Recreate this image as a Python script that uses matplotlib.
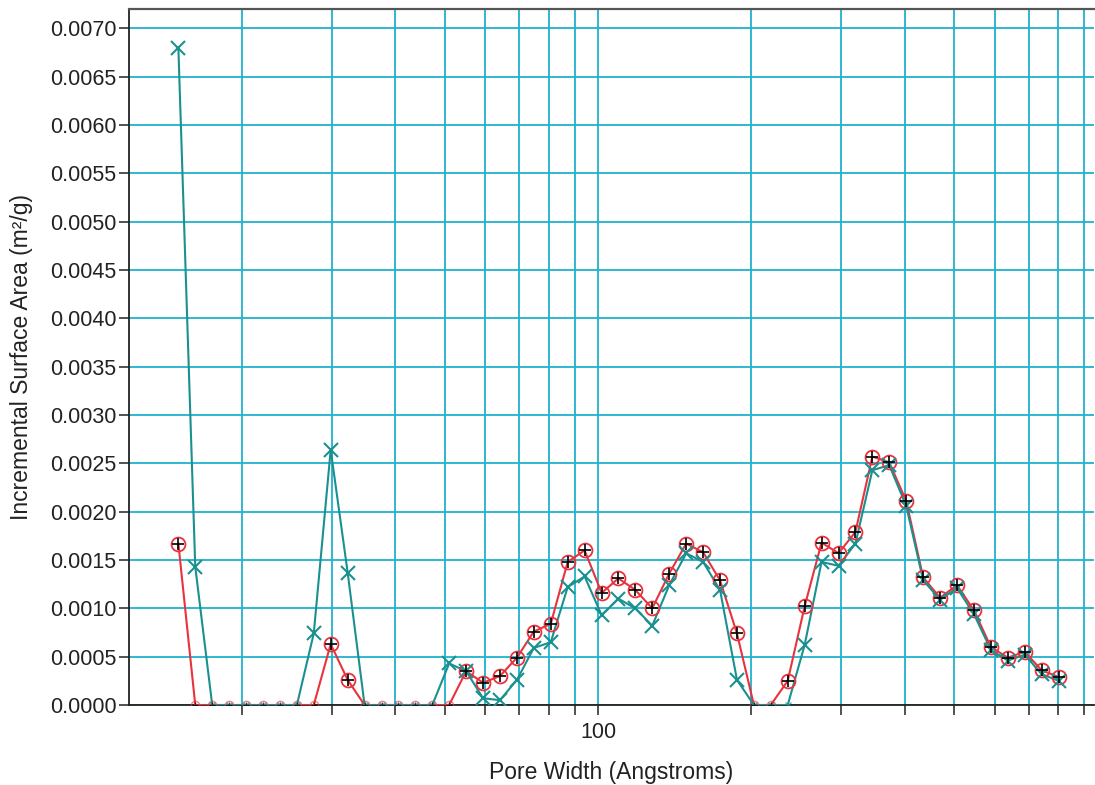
import numpy as np
import matplotlib
matplotlib.use("Agg")
import matplotlib.pyplot as plt
from matplotlib.ticker import MultipleLocator, FormatStrFormatter, LogLocator, FuncFormatter, NullFormatter

# ========= 数据 =========
pore_width = [15.0, 16.19, 17.48, 18.87, 20.37, 21.99, 23.74, 25.63, 27.66, 29.86,
              32.24, 34.80, 37.57, 40.55, 43.78, 47.26, 51.01, 55.07, 59.45, 64.17,
              69.28, 74.78, 80.73, 87.15, 94.07, 101.6, 109.6, 118.3, 127.7, 137.9,
              148.9, 160.7, 173.5, 187.3, 202.2, 218.2, 235.6, 254.3, 274.5, 296.4,
              319.9, 345.4, 372.8, 402.5, 434.5, 469.0, 506.3, 546.6, 590.0, 636.9,
              687.6, 742.2, 801.2]

area_red = [0.00167, 0, 0, 0, 0, 0, 0, 0, 0, 0.00063,
            0.00026, 0, 0, 0, 0, 0, 0, 0.00035, 0.00023, 0.00030,
            0.00049, 0.00076, 0.00084, 0.00148, 0.00160, 0.00116, 0.00131, 0.00119, 0.00100, 0.00136,
            0.00167, 0.00158, 0.00129, 0.00074, 0, 0, 0.00025, 0.00102, 0.00168, 0.00157,
            0.00179, 0.00257, 0.00251, 0.00211, 0.00132, 0.00111, 0.00124, 0.00098, 0.00060, 0.00049,
            0.00055, 0.00036, 0.00029]

area_teal = [0.00680, 0.00143, 0, 0, 0, 0, 0, 0, 0.00074, 0.00264,
             0.00137, 0, 0, 0, 0, 0, 0.00043, 0.00035, 0.00007, 0.00005,
             0.00026, 0.00059, 0.00065, 0.00122, 0.00133, 0.00093, 0.00110, 0.00100, 0.00082, 0.00124,
             0.00157, 0.00148, 0.00119, 0.00026, 0, 0, 0, 0.00062, 0.00148, 0.00144,
             0.00167, 0.00243, 0.00248, 0.00206, 0.00129, 0.00109, 0.00121, 0.00094, 0.00057, 0.00046,
             0.00052, 0.00032, 0.00025]

# ========= 样式 =========
plt.rcParams.update({
    "font.family": ["Liberation Sans", "DejaVu Sans"],
    "font.size": 15,
    "text.color": "#222222",
    "axes.labelcolor": "#222222",
    "xtick.color": "#222222",
    "ytick.color": "#222222",
})

RED = "#e8333d"
TEAL = "#1b9090"
GRID = "#1fb3cb"

x = np.array(pore_width)
yr = np.array(area_red)
yt = np.array(area_teal)

fig = plt.figure(figsize=(10.95, 7.85), dpi=100)
ax = fig.add_axes([0.1178, 0.1019, 0.8812, 0.8866])

# ======== 曲线 ========
ax.plot(x, yr, color=RED, lw=1.5, zorder=3)
ax.plot(x, yt, color=TEAL, lw=1.5, zorder=4)

nz_r = yr > 0
nz_t = yt > 0

# 非零点：大标记
ax.plot(x[nz_r], yr[nz_r], ls="none", marker="o", ms=10, mfc="none", mec=RED, mew=1.3, zorder=5)
ax.plot(x[nz_t], yt[nz_t], ls="none", marker="x", ms=10, mec=TEAL, mew=1.5, zorder=6)
ax.plot(x[nz_r], yr[nz_r], ls="none", marker="+", ms=8, mec="black", mew=1.2, zorder=7)

# 零点：小标记
ax.plot(x[~nz_r], yr[~nz_r], ls="none", marker="o", ms=6, mfc="none", mec=RED, mew=1.0, alpha=0.6, zorder=5)
ax.plot(x[~nz_t], yt[~nz_t], ls="none", marker="x", ms=5, mec=TEAL, mew=1.0, alpha=0.7, zorder=6)
ax.plot(x[~nz_r], yr[~nz_r], ls="none", marker="+", ms=5, mec="black", mew=0.9, alpha=0.7, zorder=7)

# ======== 坐标轴 ========
ax.set_xscale("log")
ax.set_xlim(12.0, 940)
ax.set_ylim(0, 0.00720)

ax.yaxis.set_major_locator(MultipleLocator(0.0005))
ax.yaxis.set_major_formatter(FormatStrFormatter("%.4f"))

ax.xaxis.set_major_locator(LogLocator(base=10))
ax.xaxis.set_minor_locator(LogLocator(base=10, subs=np.arange(2, 10)))
ax.xaxis.set_major_formatter(FuncFormatter(lambda v, p: f"{v:.0f}"))
ax.xaxis.set_minor_formatter(NullFormatter())

ax.tick_params(axis="y", which="major", direction="out", length=7, width=1.1, labelsize=15.5, pad=2)
ax.tick_params(axis="x", which="both", direction="out", length=7, width=1.1, labelsize=15.5, pad=5)

ax.set_axisbelow(True)
ax.grid(axis="x", which="both", color=GRID, lw=1.3)
ax.grid(axis="y", which="major", color=GRID, lw=1.3)

for side in ["left", "bottom"]:
    ax.spines[side].set_color("#222222")
    ax.spines[side].set_linewidth(1.3)
ax.spines["top"].set_color("#555555")
ax.spines["top"].set_linewidth(1.6)
ax.spines["right"].set_visible(False)

ax.set_xlabel("Pore Width (Angstroms)", fontsize=16.5, labelpad=13)
ax.set_ylabel("Incremental Surface Area (m²/g)", fontsize=16.5, labelpad=12)

fig.savefig("out.png", dpi=100)
